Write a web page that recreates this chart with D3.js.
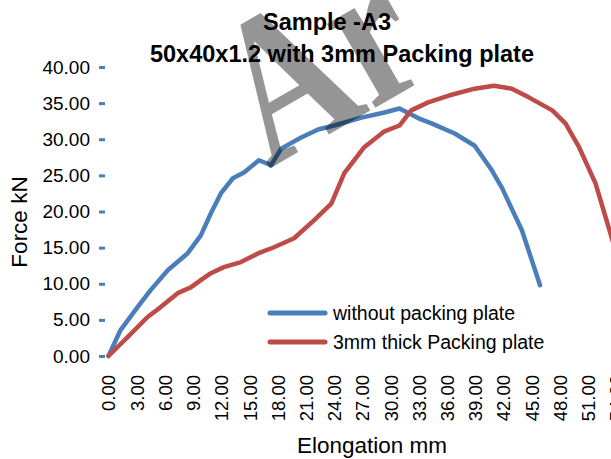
<!DOCTYPE html>
<html>
<head>
<meta charset="utf-8">
<script src="https://cdn.jsdelivr.net/npm/d3@7"></script>
<style>
  html, body { margin: 0; padding: 0; background: #fff; }
  svg { display: block; }
  text { font-family: "Liberation Sans", Arial, Helvetica, sans-serif; fill: #000; }
</style>
</head>
<body>
<svg id="chart" width="611" height="459"></svg>
<script>
// Elongation (mm) and force (kN) for each test
const elongationPlain = [0, 1.28, 3.09, 4.48, 6.3, 8.43, 9.82, 10.89, 11.95, 13.23, 14.41, 16.0, 17.29, 18.36, 20.49, 22.3, 24.0, 26.9, 29.35, 30.95, 32.98, 34.36, 36.82, 38.95, 40.77, 41.84, 43.97, 45.9];
const forcePlain      = [0, 3.59, 6.77, 9.12, 11.88, 14.23, 16.7, 19.75, 22.5, 24.6, 25.4, 27.1, 26.4, 28.7, 30.25, 31.35, 31.9, 33.0, 33.7, 34.25, 32.9, 32.2, 30.8, 29.1, 25.7, 23.3, 17.4, 9.8];

const elongationPlate = [0, 2.03, 4.16, 5.55, 7.36, 8.75, 9.82, 10.89, 12.27, 14.09, 15.9, 17.6, 19.74, 21.88, 23.7, 25.08, 27.2, 29.35, 30.95, 32.2, 34.0, 36.2, 38.95, 41.0, 42.9, 44.7, 47.2, 48.6, 50.05, 51.8, 53.7, 54.6];
const forcePlate      = [0, 2.6, 5.4, 6.77, 8.7, 9.5, 10.5, 11.46, 12.3, 13.0, 14.2, 15.05, 16.3, 18.8, 21.1, 25.3, 28.9, 31.1, 31.9, 34.0, 35.1, 36.05, 37.0, 37.4, 37.0, 35.8, 34.0, 32.2, 28.9, 23.9, 15.6, 11.2];

const seriesNames = ["without packing plate", "3mm thick Packing plate"];
const seriesColors = ["#4a7ebb", "#be4b48"];
const titleLines = ["Sample -A3", "50x40x1.2 with 3mm Packing plate"];
const yTicks = [0, 5, 10, 15, 20, 25, 30, 35, 40];
const xTicks = d3.range(0, 58, 3);

const svg = d3.select("#chart");
const axisColor = "#4a7ebb";

const defs = svg.append("defs");
const shadow = defs.append("filter").attr("id", "axisShadow")
  .attr("x", "-20%").attr("y", "-20%").attr("width", "140%").attr("height", "140%");
shadow.append("feDropShadow").attr("dx", -1).attr("dy", 2)
  .attr("stdDeviation", 1.2).attr("flood-color", "#000").attr("flood-opacity", 0.35);

const x = d3.scaleLinear().domain([0, 57]).range([108.5, 108.5 + 57 * (588 - 108.5) / 51]);
const y = d3.scaleLinear().domain([0, 40]).range([356, 67]);

// Title (two centred lines)
const titleX = [327, 342];
svg.append("g").selectAll("text").data(titleLines).join("text")
  .attr("x", (d, i) => titleX[i]).attr("y", (d, i) => 29.5 + i * 32.5)
  .attr("text-anchor", "middle")
  .style("font-weight", "bold").style("font-size", "23.5px")
  .text(d => d);

// Y axis
const yAxis = svg.append("g").attr("transform", "translate(105,0)")
  .call(d3.axisLeft(y).tickValues(yTicks).tickFormat(d3.format(".2f"))
    .tickSize(6).tickSizeOuter(0).tickPadding(9));
yAxis.select(".domain").attr("stroke", axisColor).attr("stroke-width", 4).attr("filter", "url(#axisShadow)");
yAxis.selectAll(".tick line").attr("stroke", axisColor).attr("stroke-width", 3);
yAxis.selectAll(".tick text").style("font-size", "19px").attr("fill", "#000");

// X axis
const xAxis = svg.append("g").attr("transform", `translate(0,${y(0)})`)
  .call(d3.axisBottom(x).tickValues(xTicks).tickFormat(d3.format(".2f"))
    .tickSize(0).tickSizeOuter(0));
xAxis.select(".domain").attr("d", `M103,0H700`)
  .attr("stroke", axisColor).attr("stroke-width", 4).attr("filter", "url(#axisShadow)");
xAxis.selectAll(".tick text")
  .attr("transform", "rotate(-90)")
  .attr("x", -19).attr("y", 0).attr("dy", "0.35em")
  .attr("text-anchor", "end")
  .style("font-size", "18.5px").attr("fill", "#000");

// Axis titles
svg.append("text").attr("transform", "translate(19,222) rotate(-90)")
  .attr("dy", "0.35em")
  .attr("text-anchor", "middle").style("font-size", "22.5px").text("Force kN");
svg.append("text").attr("x", 372).attr("y", 453)
  .attr("text-anchor", "middle").style("font-size", "22.5px").text("Elongation mm");

// Series lines
const line = d3.line().x(d => x(d[0])).y(d => y(d[1]));
const series = [
  d3.zip(elongationPlain, forcePlain),
  d3.zip(elongationPlate, forcePlate)
];
svg.append("g").selectAll("path").data(series).join("path")
  .attr("d", line)
  .attr("fill", "none")
  .attr("stroke", (d, i) => seriesColors[i])
  .attr("stroke-width", 4.5)
  .attr("stroke-linejoin", "round")
  .attr("stroke-linecap", "round");

// Legend
const legend = svg.append("g");
const items = legend.selectAll("g").data(seriesNames).join("g")
  .attr("transform", (d, i) => `translate(270,${313 + i * 29})`);
items.append("line").attr("x1", 0).attr("x2", 55)
  .attr("stroke", (d, i) => seriesColors[i]).attr("stroke-width", 5).attr("stroke-linecap", "round");
items.append("text").attr("x", 63).attr("dy", "0.35em")
  .style("font-size", "19.5px").text(d => d);

// Watermark, laid over the chart
svg.append("text")
  .attr("transform", "translate(268.6,169.3) rotate(-30) scale(0.78,1)")
  .style("font-family", "'Liberation Serif', 'DejaVu Serif', serif")
  .style("font-weight", "bold").style("font-size", "211px")
  .attr("fill", "#7a7a7a").attr("opacity", 0.41)
  .text("Ar");
</script>
</body>
</html>
